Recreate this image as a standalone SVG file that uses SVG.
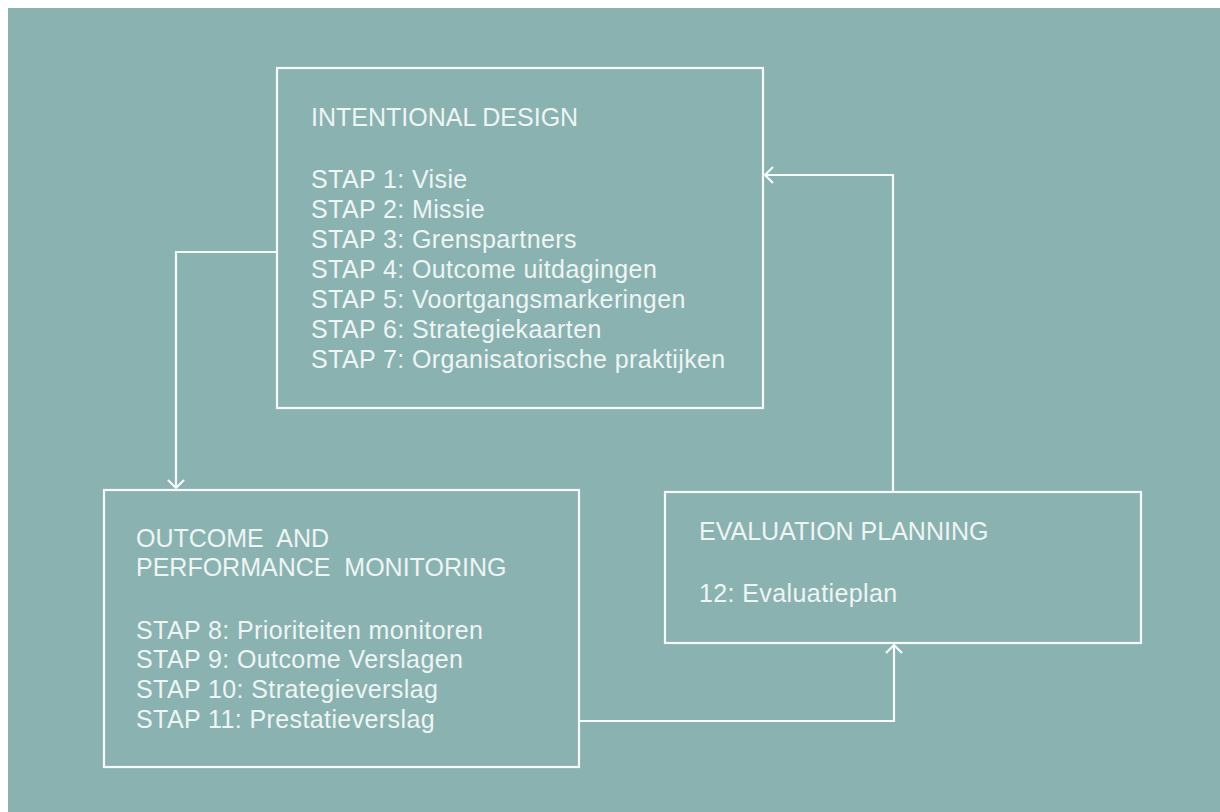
<svg xmlns="http://www.w3.org/2000/svg" width="1220" height="812" viewBox="0 0 1220 812">
<style>
.box{fill:none;stroke:#F7FBFA;stroke-width:2.2}
.conn{fill:none;stroke:#F7FBFA;stroke-width:2.2}
text{font-family:"Liberation Sans",Arial,sans-serif;font-size:25px;fill:#EEF5F4}
.step{letter-spacing:0.4px}
</style>
<defs>
<marker id="chev" viewBox="-10 -10 12 20" refX="0" refY="0" markerWidth="12" markerHeight="20" markerUnits="userSpaceOnUse" orient="auto">
<path d="M-8,-8 L0,0 L-8,8" fill="none" stroke="#F7FBFA" stroke-width="2.2"/>
</marker>
</defs>
<rect x="0" y="0" width="1220" height="812" fill="#FFFFFF"/>
<rect x="8" y="8" width="1212" height="804" fill="#8AB2B1"/>
<g id="connectors">
<polyline class="conn" points="277,252 176,252 176,488" marker-end="url(#chev)"/>
<polyline class="conn" points="579,721 894,721 894,645" marker-end="url(#chev)"/>
<polyline class="conn" points="893,492 893,175 765,175" marker-end="url(#chev)"/>
</g>
<g id="intentional-design">
<rect class="box" x="277" y="68" width="486" height="340"/>
<text x="311" y="126">INTENTIONAL DESIGN</text>
<text class="step" x="311" y="188">STAP 1: Visie</text>
<text class="step" x="311" y="218">STAP 2: Missie</text>
<text class="step" x="311" y="248">STAP 3: Grenspartners</text>
<text class="step" x="311" y="278">STAP 4: Outcome uitdagingen</text>
<text class="step" x="311" y="308">STAP 5: Voortgangsmarkeringen</text>
<text class="step" x="311" y="338">STAP 6: Strategiekaarten</text>
<text class="step" x="311" y="368">STAP 7: Organisatorische praktijken</text>
</g>
<g id="outcome-monitoring">
<rect class="box" x="104" y="490" width="475" height="277"/>
<text x="136" y="547" xml:space="preserve">OUTCOME  AND</text>
<text x="136" y="576" xml:space="preserve">PERFORMANCE  MONITORING</text>
<text class="step" x="136" y="639">STAP 8: Prioriteiten monitoren</text>
<text class="step" x="136" y="668">STAP 9: Outcome Verslagen</text>
<text class="step" x="136" y="698">STAP 10: Strategieverslag</text>
<text class="step" x="136" y="728">STAP 11: Prestatieverslag</text>
</g>
<g id="evaluation-planning">
<rect class="box" x="665" y="492" width="476" height="151"/>
<text x="699" y="540">EVALUATION PLANNING</text>
<text class="step" x="699" y="602">12: Evaluatieplan</text>
</g>
</svg>
